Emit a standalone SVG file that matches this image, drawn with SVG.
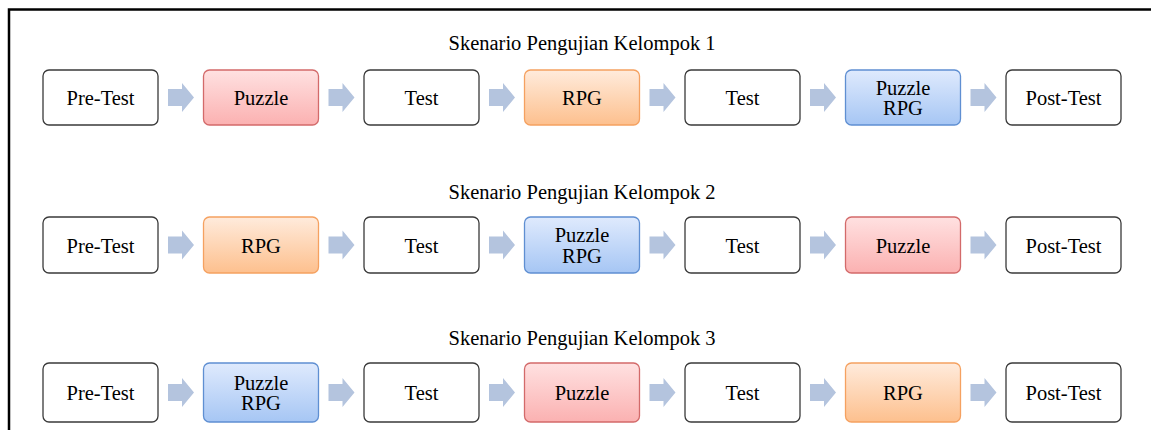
<svg xmlns="http://www.w3.org/2000/svg" width="1151" height="430" viewBox="0 0 1151 430">
<defs>
<linearGradient id="gRed" x1="0" y1="0" x2="0" y2="1"><stop offset="0" stop-color="#ffe1e1"/><stop offset="1" stop-color="#fbb1b1"/></linearGradient>
<linearGradient id="gOrange" x1="0" y1="0" x2="0" y2="1"><stop offset="0" stop-color="#ffebdc"/><stop offset="1" stop-color="#fdc08e"/></linearGradient>
<linearGradient id="gBlue" x1="0" y1="0" x2="0" y2="1"><stop offset="0" stop-color="#dfeafd"/><stop offset="1" stop-color="#a6c6f4"/></linearGradient>
<path id="arr" d="M0,-8.5 L14,-8.5 L14,-14.5 L26,0 L14,14.5 L14,8.5 L0,8.5 Z"/>
</defs>
<style>
text{font-family:"Liberation Serif",Tinos,"Times New Roman",Times,"DejaVu Serif","Noto Serif",FreeSerif,serif;font-size:20.5px;fill:#000;text-anchor:middle}
.w{fill:#fff;stroke:#3a3a3a;stroke-width:1.3}
.r{fill:url(#gRed);stroke:#d36a6a;stroke-width:1.3}
.o{fill:url(#gOrange);stroke:#f5a160;stroke-width:1.3}
.b{fill:url(#gBlue);stroke:#5f8fd2;stroke-width:1.3}
.a{fill:#b4c4de}
</style>
<rect x="0" y="0" width="1151" height="430" fill="#fff"/>
<path d="M9,432 L9,9.5 L1153,9.5" fill="none" stroke="#000" stroke-width="2.5"/>
<g id="titles">
<text x="582" y="50">Skenario Pengujian Kelompok 1</text>
<text x="582" y="199">Skenario Pengujian Kelompok 2</text>
<text x="582" y="345">Skenario Pengujian Kelompok 3</text>
</g>
<g id="connectors">
<use href="#arr" class="a" x="168" y="97.5"/><use href="#arr" class="a" x="328.5" y="97.5"/><use href="#arr" class="a" x="489" y="97.5"/><use href="#arr" class="a" x="649.5" y="97.5"/><use href="#arr" class="a" x="810" y="97.5"/><use href="#arr" class="a" x="970.5" y="97.5"/>
<use href="#arr" class="a" x="168" y="245"/><use href="#arr" class="a" x="328.5" y="245"/><use href="#arr" class="a" x="489" y="245"/><use href="#arr" class="a" x="649.5" y="245"/><use href="#arr" class="a" x="810" y="245"/><use href="#arr" class="a" x="970.5" y="245"/>
<use href="#arr" class="a" x="168" y="392.5"/><use href="#arr" class="a" x="328.5" y="392.5"/><use href="#arr" class="a" x="489" y="392.5"/><use href="#arr" class="a" x="649.5" y="392.5"/><use href="#arr" class="a" x="810" y="392.5"/><use href="#arr" class="a" x="970.5" y="392.5"/>
</g>
<!-- Row 1 -->
<g id="r1n1"><rect class="w" x="43" y="70" width="115" height="55" rx="6"/><text x="100.5" y="105">Pre-Test</text></g>
<g id="r1n2"><rect class="r" x="203.5" y="70" width="115" height="55" rx="6"/><text x="261" y="105">Puzzle</text></g>
<g id="r1n3"><rect class="w" x="364" y="70" width="115" height="55" rx="6"/><text x="421.5" y="105">Test</text></g>
<g id="r1n4"><rect class="o" x="524.5" y="70" width="115" height="55" rx="6"/><text x="582" y="105">RPG</text></g>
<g id="r1n5"><rect class="w" x="685" y="70" width="115" height="55" rx="6"/><text x="742.5" y="105">Test</text></g>
<g id="r1n6"><rect class="b" x="845.5" y="70" width="115" height="55" rx="6"/><text x="903" y="94.5">Puzzle</text><text x="903" y="115">RPG</text></g>
<g id="r1n7"><rect class="w" x="1006" y="70" width="115" height="55" rx="6"/><text x="1063.5" y="105">Post-Test</text></g>
<!-- Row 2 -->
<g id="r2n1"><rect class="w" x="43" y="217" width="115" height="56" rx="6"/><text x="100.5" y="252.5">Pre-Test</text></g>
<g id="r2n2"><rect class="o" x="203.5" y="217" width="115" height="56" rx="6"/><text x="261" y="252.5">RPG</text></g>
<g id="r2n3"><rect class="w" x="364" y="217" width="115" height="56" rx="6"/><text x="421.5" y="252.5">Test</text></g>
<g id="r2n4"><rect class="b" x="524.5" y="217" width="115" height="56" rx="6"/><text x="582" y="242">Puzzle</text><text x="582" y="262.5">RPG</text></g>
<g id="r2n5"><rect class="w" x="685" y="217" width="115" height="56" rx="6"/><text x="742.5" y="252.5">Test</text></g>
<g id="r2n6"><rect class="r" x="845.5" y="217" width="115" height="56" rx="6"/><text x="903" y="252.5">Puzzle</text></g>
<g id="r2n7"><rect class="w" x="1006" y="217" width="115" height="56" rx="6"/><text x="1063.5" y="252.5">Post-Test</text></g>
<!-- Row 3 -->
<g id="r3n1"><rect class="w" x="43" y="363" width="115" height="59" rx="6"/><text x="100.5" y="400">Pre-Test</text></g>
<g id="r3n2"><rect class="b" x="203.5" y="363" width="115" height="59" rx="6"/><text x="261" y="389.5">Puzzle</text><text x="261" y="410">RPG</text></g>
<g id="r3n3"><rect class="w" x="364" y="363" width="115" height="59" rx="6"/><text x="421.5" y="400">Test</text></g>
<g id="r3n4"><rect class="r" x="524.5" y="363" width="115" height="59" rx="6"/><text x="582" y="400">Puzzle</text></g>
<g id="r3n5"><rect class="w" x="685" y="363" width="115" height="59" rx="6"/><text x="742.5" y="400">Test</text></g>
<g id="r3n6"><rect class="o" x="845.5" y="363" width="115" height="59" rx="6"/><text x="903" y="400">RPG</text></g>
<g id="r3n7"><rect class="w" x="1006" y="363" width="115" height="59" rx="6"/><text x="1063.5" y="400">Post-Test</text></g>
</svg>
